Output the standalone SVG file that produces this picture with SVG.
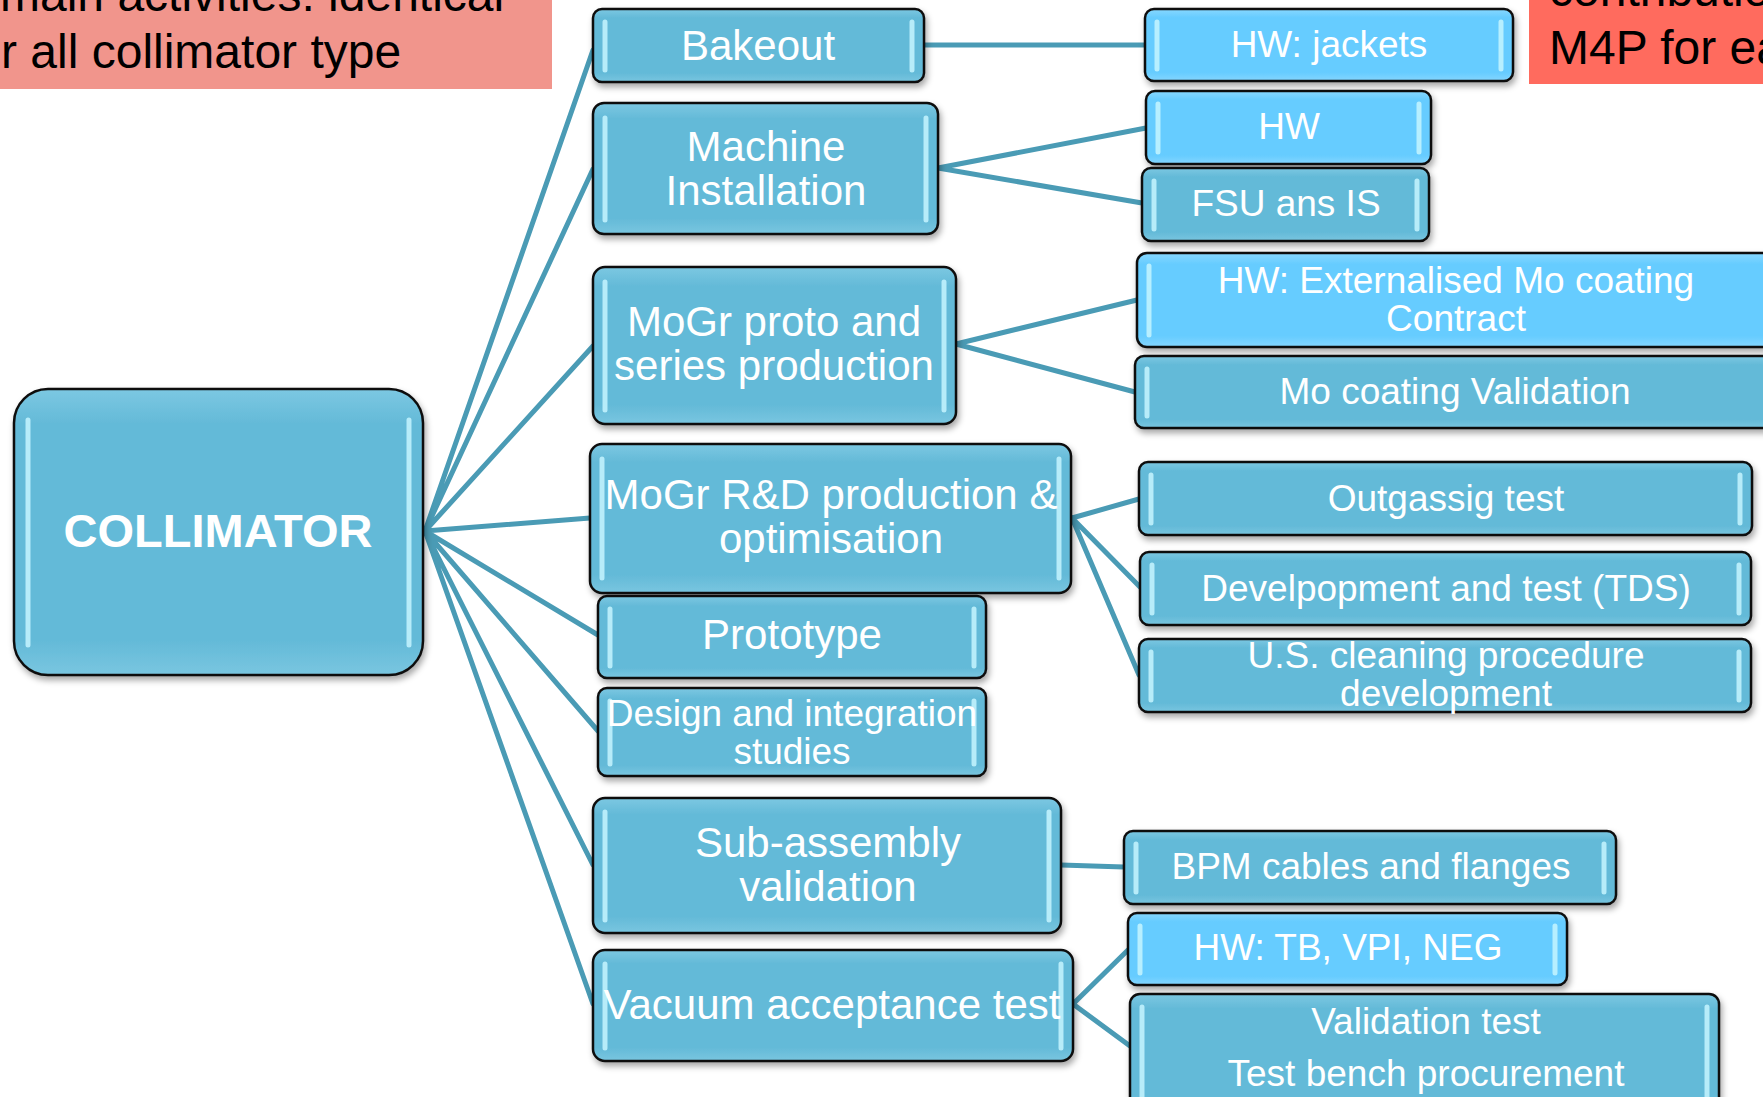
<svg xmlns="http://www.w3.org/2000/svg" width="1763" height="1097" viewBox="0 0 1763 1097">
<defs>
<filter id="sh" x="-10%" y="-10%" width="120%" height="130%">
<feDropShadow dx="2" dy="4" stdDeviation="3" flood-color="#000" flood-opacity="0.35"/>
</filter>
<linearGradient id="gm" x1="0" y1="0" x2="0" y2="1">
<stop offset="0" stop-color="#7CC8E2"/>
<stop offset="0.12" stop-color="#64BAD8"/>
<stop offset="0.88" stop-color="#64BAD8"/>
<stop offset="1" stop-color="#79C6E0"/>
</linearGradient>
<linearGradient id="gl" x1="0" y1="0" x2="0" y2="1">
<stop offset="0" stop-color="#88D8FF"/>
<stop offset="0.12" stop-color="#66CCFF"/>
<stop offset="0.88" stop-color="#66CCFF"/>
<stop offset="1" stop-color="#84D6FF"/>
</linearGradient>
</defs>
<style>
.box{stroke:#111;stroke-width:2.5;filter:url(#sh)}
.m{fill:url(#gm)}
.l{fill:url(#gl)}
.hl{stroke:#C6F5FF;stroke-width:5;stroke-linecap:round;fill:none;opacity:0.85}
.t1{font-family:"Liberation Sans",Arial,sans-serif;font-size:42px;fill:#fff;text-anchor:middle}
.t2{font-family:"Liberation Sans",Arial,sans-serif;font-size:37px;fill:#fff;text-anchor:middle}
.t0{font-family:"Liberation Sans",Arial,sans-serif;font-size:47px;font-weight:bold;fill:#fff;text-anchor:middle}
.tn{font-family:"Liberation Sans",Arial,sans-serif;font-size:48px;fill:#000}
.c{stroke:#4A9BB5;stroke-width:5;fill:none;stroke-linecap:round}
</style>
<rect width="1763" height="1097" fill="#fff"/>

<g id="note-left">
<rect x="0" y="0" width="552" height="89" fill="#F1958C"/>
<text class="tn" x="0" y="11">main activities: identical</text>
<text class="tn" x="1" y="68">r all collimator type</text>
</g>
<g id="note-right">
<rect x="1529" y="0" width="234" height="84" fill="#FF6B5E"/>
<text class="tn" x="1549" y="6">contributio</text>
<text class="tn" x="1549" y="64">M4P for ea</text>
</g>

<g id="connectors">
<path class="c" d="M425 531L593 50M425 531L593 169M425 531L593 346M425 531L590 518M425 531L598 635M425 531L598 731M425 531L593 865M425 531L593 1004"/>
<path class="c" d="M924 45L1145 45"/>
<path class="c" d="M938 168L1146 128M938 168L1142 203"/>
<path class="c" d="M956 344L1137 300M956 344L1135 392"/>
<path class="c" d="M1072 518L1139 499M1072 518L1140 587M1072 518L1139 675"/>
<path class="c" d="M1061 865L1124 867"/>
<path class="c" d="M1073 1004L1128 950M1073 1004L1130 1046"/>
</g>

<g id="collimator">
<rect class="box m" x="14" y="389" width="409" height="286" rx="34"/>
<path class="hl" d="M28 420V645M409 420V645"/>
<text class="t0" x="218" y="547">COLLIMATOR</text>
</g>

<g id="bakeout">
<rect class="box m" x="593" y="9" width="331" height="73" rx="9"/>
<path class="hl" d="M605 22V70M912 22V70"/>
<text class="t1" x="758" y="60">Bakeout</text>
</g>
<g id="machine-installation">
<rect class="box m" x="593" y="103" width="345" height="131" rx="11"/>
<path class="hl" d="M605 118V220M926 118V220"/>
<text class="t1" x="766" y="161">Machine</text>
<text class="t1" x="766" y="205">Installation</text>
</g>
<g id="mogr-proto">
<rect class="box m" x="593" y="267" width="363" height="157" rx="12"/>
<path class="hl" d="M605 282V410M944 282V410"/>
<text class="t1" x="774" y="336">MoGr proto and</text>
<text class="t1" x="774" y="380">series production</text>
</g>
<g id="mogr-rd">
<rect class="box m" x="590" y="444" width="481" height="149" rx="12"/>
<path class="hl" d="M602 459V578M1059 459V578"/>
<text class="t1" x="831" y="509">MoGr R&amp;D production &amp;</text>
<text class="t1" x="831" y="553">optimisation</text>
</g>
<g id="prototype">
<rect class="box m" x="598" y="596" width="388" height="82" rx="9"/>
<path class="hl" d="M610 609V666M974 609V666"/>
<text class="t1" x="792" y="649">Prototype</text>
</g>
<g id="design">
<rect class="box m" x="598" y="688" width="388" height="88" rx="9"/>
<path class="hl" d="M610 701V764M974 701V764"/>
<text class="t2" x="792" y="726">Design and integration</text>
<text class="t2" x="792" y="764">studies</text>
</g>
<g id="sub-assembly">
<rect class="box m" x="593" y="798" width="468" height="135" rx="12"/>
<path class="hl" d="M605 812V920M1049 812V920"/>
<text class="t1" x="828" y="857">Sub-assembly</text>
<text class="t1" x="828" y="901">validation</text>
</g>
<g id="vacuum">
<rect class="box m" x="593" y="950" width="480" height="111" rx="12"/>
<path class="hl" d="M605 964V1048M1061 964V1048"/>
<text class="t1" x="832" y="1019">Vacuum acceptance test</text>
</g>

<g id="hw-jackets">
<rect class="box l" x="1145" y="9" width="368" height="72" rx="9"/>
<path class="hl" d="M1157 22V69M1501 22V69"/>
<text class="t2" x="1329" y="57">HW: jackets</text>
</g>
<g id="hw">
<rect class="box l" x="1146" y="91" width="285" height="73" rx="9"/>
<path class="hl" d="M1158 104V152M1419 104V152"/>
<text class="t2" x="1289" y="139">HW</text>
</g>
<g id="fsu">
<rect class="box m" x="1142" y="168" width="287" height="73" rx="9"/>
<path class="hl" d="M1154 181V229M1417 181V229"/>
<text class="t2" x="1286" y="216">FSU ans IS</text>
</g>
<g id="hw-ext">
<rect class="box l" x="1137" y="253" width="650" height="94" rx="10"/>
<path class="hl" d="M1149 266V335"/>
<text class="t2" x="1456" y="293">HW: Externalised Mo coating</text>
<text class="t2" x="1456" y="331">Contract</text>
</g>
<g id="mo-validation">
<rect class="box m" x="1135" y="356" width="650" height="72" rx="9"/>
<path class="hl" d="M1147 369V416"/>
<text class="t2" x="1455" y="404">Mo coating Validation</text>
</g>
<g id="outgassing">
<rect class="box m" x="1139" y="462" width="613" height="73" rx="9"/>
<path class="hl" d="M1151 475V523M1740 475V523"/>
<text class="t2" x="1446" y="511">Outgassig test</text>
</g>
<g id="development">
<rect class="box m" x="1140" y="552" width="611" height="73" rx="9"/>
<path class="hl" d="M1152 565V613M1739 565V613"/>
<text class="t2" x="1446" y="601">Develpopment and test (TDS)</text>
</g>
<g id="us-cleaning">
<rect class="box m" x="1139" y="639" width="612" height="73" rx="9"/>
<path class="hl" d="M1151 652V700M1739 652V700"/>
<text class="t2" x="1446" y="668">U.S. cleaning procedure</text>
<text class="t2" x="1446" y="706">development</text>
</g>
<g id="bpm">
<rect class="box m" x="1124" y="831" width="492" height="73" rx="9"/>
<path class="hl" d="M1136 844V892M1604 844V892"/>
<text class="t2" x="1371" y="879">BPM cables and flanges</text>
</g>
<g id="hw-tb">
<rect class="box l" x="1128" y="913" width="439" height="72" rx="9"/>
<path class="hl" d="M1140 926V973M1555 926V973"/>
<text class="t2" x="1348" y="960">HW: TB, VPI, NEG</text>
</g>
<g id="validation">
<rect class="box m" x="1130" y="994" width="589" height="120" rx="10"/>
<path class="hl" d="M1142 1007V1100M1707 1007V1100"/>
<text class="t2" x="1426" y="1034">Validation test</text>
<text class="t2" x="1426" y="1086">Test bench procurement</text>
</g>
</svg>
